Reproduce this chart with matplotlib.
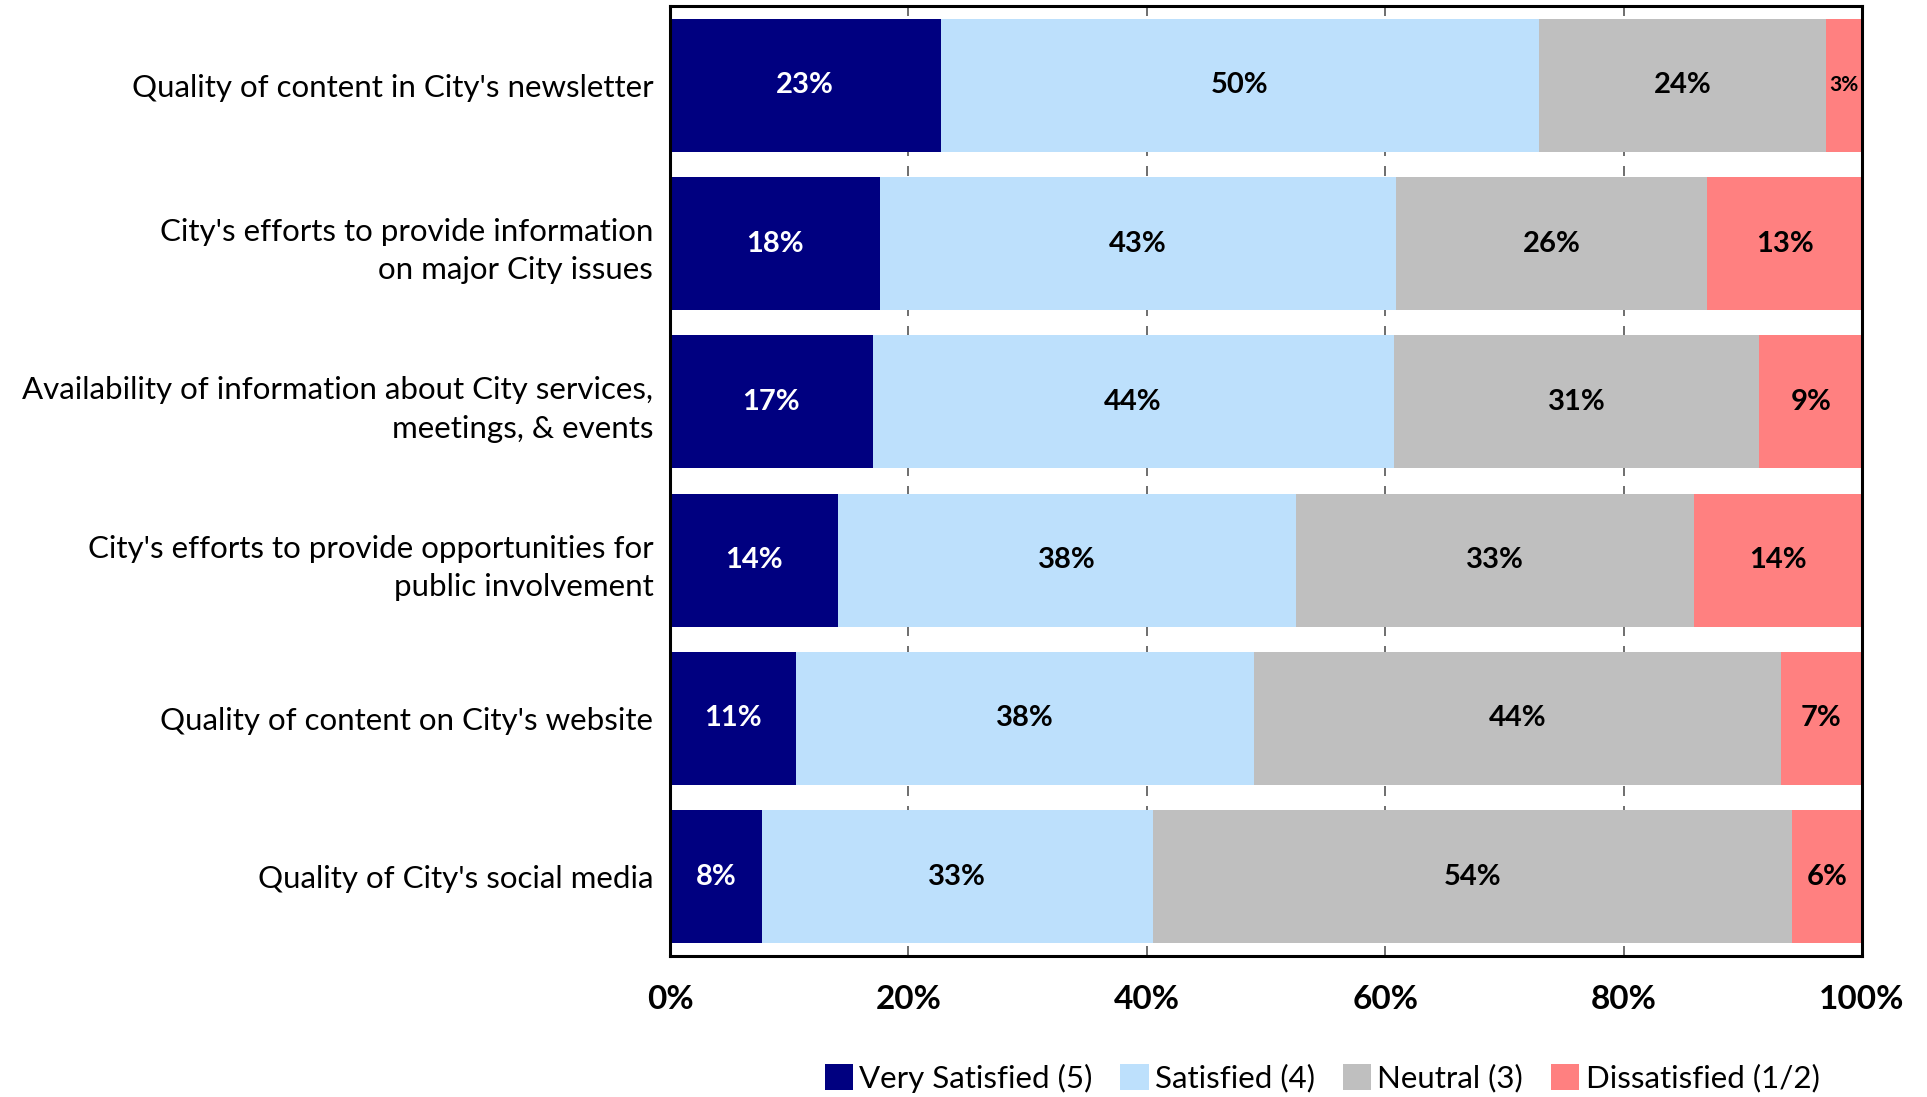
import matplotlib
matplotlib.use("Agg")
import matplotlib.pyplot as plt
import matplotlib.ticker as ticker
import numpy as np

plt.rcParams['font.family'] = ['Lato', 'DejaVu Sans']

# survey items, top to bottom
items = [
    "Quality of content in City's newsletter",
    "City's efforts to provide information\non major City issues",
    "Availability of information about City services,\nmeetings, & events",
    "City's efforts to provide opportunities for\npublic involvement",
    "Quality of content on City's website",
    "Quality of City's social media",
]
very_satisfied = [22.7, 17.6, 17.0, 14.1, 10.6, 7.7]
satisfied = [50.2, 43.3, 43.7, 38.4, 38.4, 32.8]
neutral = [24.1, 26.1, 30.7, 33.4, 44.2, 53.6]
dissatisfied = [3.0, 13.0, 8.6, 14.1, 6.8, 5.9]

series_names = ["Very Satisfied (5)", "Satisfied (4)", "Neutral (3)", "Dissatisfied (1/2)"]
colors = ["#000080", "#BDE0FC", "#BFBFBF", "#FF8080"]
text_colors = ["white", "black", "black", "black"]
xtick_labels = ["0%", "20%", "40%", "60%", "80%", "100%"]

fig = plt.figure(figsize=(19.27, 10.97), dpi=100)
ax = fig.add_axes([670 / 1927, 1 - 956 / 1097, (1862 - 670) / 1927, (956 - 6) / 1097])

y = np.arange(len(items))
left = np.zeros(len(items))
for vals, name, col, tcol in zip([very_satisfied, satisfied, neutral, dissatisfied],
                                 series_names, colors, text_colors):
    vals = np.array(vals)
    ax.barh(y, vals, left=left, height=0.84, color=col, label=name, zorder=2)
    for yi, l, v in zip(y, left, vals):
        fs = 15 if v < 4 else 21
        ax.text(l + v / 2, yi, f"{v:.0f}%", ha='center', va='center',
                color=tcol, fontsize=fs, fontweight='bold', zorder=3)
    left += vals

ax.set_ylim(len(items) - 0.5, -0.5)
ax.set_xlim(0, 100)
ax.set_yticks(y)
ax.set_yticklabels(items, fontsize=22.5, ha='right', linespacing=1.45)

ax.xaxis.set_major_locator(ticker.MultipleLocator(20))
ax.set_xticks(np.arange(0, 101, 20))
ax.set_xticklabels(xtick_labels, fontsize=24, fontweight='bold')
ax.tick_params(axis='x', length=0, pad=21)
ax.tick_params(axis='y', length=0, pad=12)

# dashed gridlines visible between the bars
ax.grid(axis='x', color='#555555', linestyle=(0, (6, 6)), linewidth=1.2, zorder=1)
ax.set_axisbelow(True)

for sp in ax.spines.values():
    sp.set_linewidth(2.2)
    sp.set_color('black')

fig.legend(loc='center', bbox_to_anchor=(1322 / 1927, 1 - 1078 / 1097), ncol=4,
           frameon=False, fontsize=22.5, handlelength=0.9, handleheight=0.9,
           handletextpad=0.2, columnspacing=0.9, borderaxespad=0)

fig.savefig("out.png", dpi=100)
